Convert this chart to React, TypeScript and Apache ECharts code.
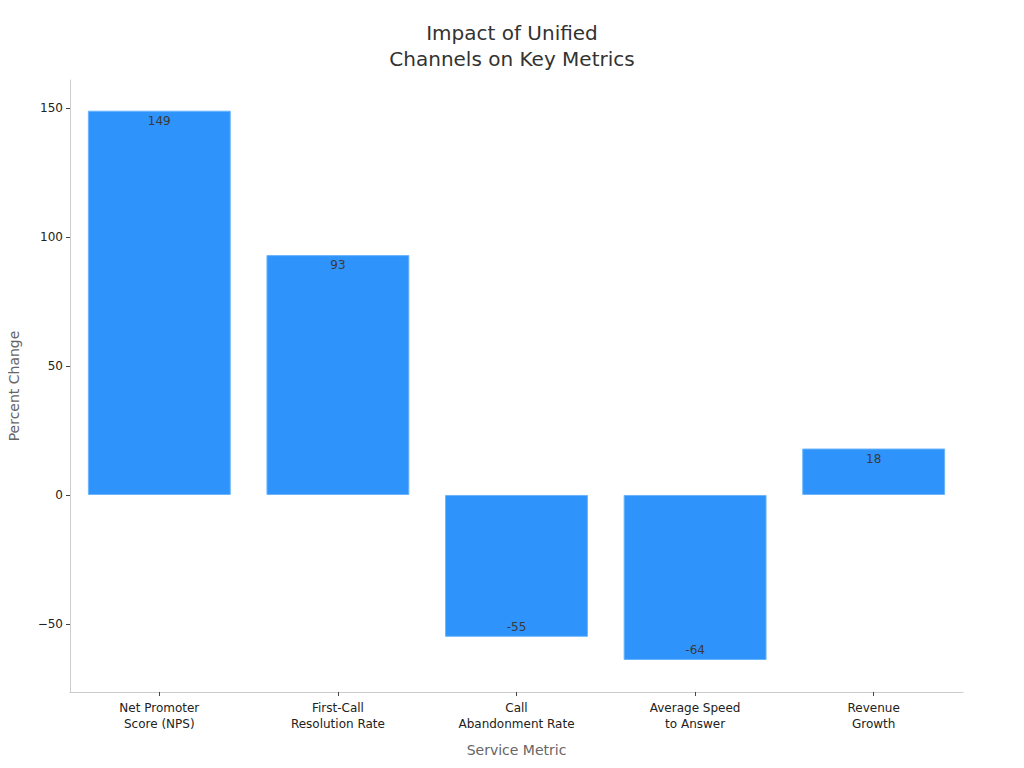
import React, { useEffect, useRef } from "react";
import * as echarts from "echarts";

const categories = [
  "Net Promoter\nScore (NPS)",
  "First-Call\nResolution Rate",
  "Call\nAbandonment Rate",
  "Average Speed\nto Answer",
  "Revenue\nGrowth",
];
const values = [149, 93, -55, -64, 18];
const yTicks = [-50, 0, 50, 100, 150];

export default function App() {
  const ref = useRef<HTMLDivElement>(null);
  useEffect(() => {
    if (!ref.current) return;
    const chart = echarts.init(ref.current, undefined, { renderer: "svg" });
    const font = "DejaVu Sans";
    chart.setOption({
      animation: false,
      backgroundColor: "#ffffff",
      title: {
        text: "Impact of Unified\nChannels on Key Metrics",
        left: "center",
        top: 15,
        textStyle: {
          fontFamily: font,
          fontSize: 20,
          fontWeight: "normal",
          color: "#333333",
          lineHeight: 26,
        },
      },
      grid: { left: 70, right: 61, top: 80, bottom: 76, containLabel: false, outerBoundsMode: "none" },
      xAxis: {
        type: "category",
        data: categories,
        name: "Service Metric",
        nameLocation: "middle",
        nameGap: 51,
        nameTextStyle: { fontFamily: font, fontSize: 14, color: "#666666" },
        axisLine: { onZero: false, lineStyle: { color: "#cccccc", width: 1 } },
        axisTick: { show: true, alignWithLabel: true, length: 4, lineStyle: { color: "#444444" } },
        axisLabel: {
          fontFamily: font,
          fontSize: 12,
          color: "#222222",
          lineHeight: 16,
          margin: 8,
          interval: 0,
        },
      },
      yAxis: {
        type: "value",
        min: -76.4,
        max: 160.9,
        name: "Percent Change",
        nameLocation: "middle",
        nameGap: 49,
        nameTextStyle: { fontFamily: font, fontSize: 14, color: "#666666" },
        axisLine: { show: true, lineStyle: { color: "#cccccc", width: 1 } },
        axisTick: { show: true, length: 4, lineStyle: { color: "#444444" }, customValues: yTicks },
        splitLine: { show: false },
        axisLabel: {
          fontFamily: font,
          fontSize: 12,
          color: "#222222",
          margin: 7,
          customValues: yTicks,
          formatter: (v: number) => String(v).replace("-", "\u2212"),
        },
      },
      series: [
        {
          type: "bar",
          barCategoryGap: "20%",
          data: values.map((v) => ({
            value: v,
            label: { position: v >= 0 ? "insideTop" : "insideBottom" },
          })),
          itemStyle: { color: "#2e93fa", borderColor: "#6ab4fc", borderWidth: 1 },
          label: {
            show: true,
            distance: 4,
            fontFamily: font,
            fontSize: 12,
            color: "#3a3a3a",
          },
        },
      ],
    });
    return () => chart.dispose();
  }, []);
  return <div ref={ref} style={{ width: 1024, height: 768, margin: -8 }} />;
}
